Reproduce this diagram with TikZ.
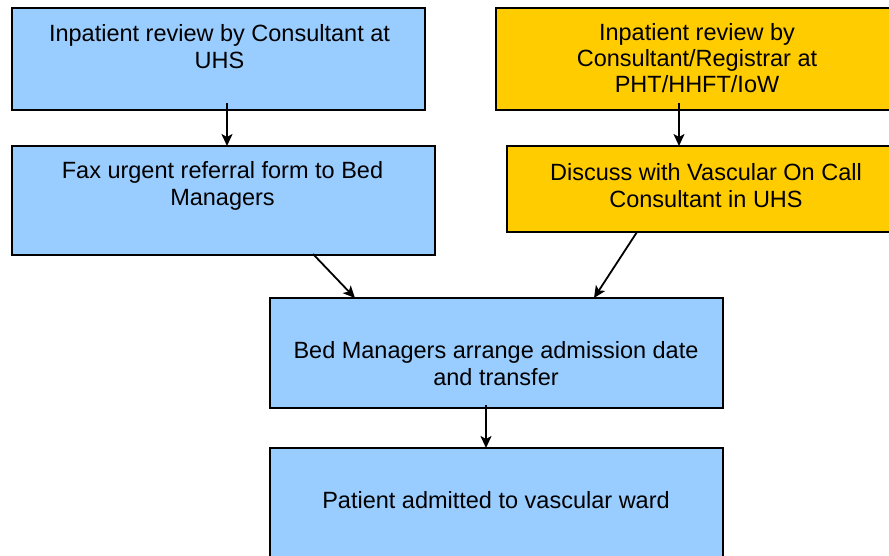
\documentclass[tikz,border=0pt]{standalone}
\usepackage{fontspec}
\setmainfont{Liberation Sans}
\usetikzlibrary{arrows.meta}
\definecolor{boxblue}{HTML}{99CCFF}
\definecolor{boxorange}{HTML}{FFCC00}
\begin{document}
\begin{tikzpicture}[x=1pt,y=-1pt,
  box/.style={draw=black,line width=1.7pt,minimum width=#1,inner sep=0pt,outer sep=0pt,rectangle},
  bluebox/.style={box=#1,fill=boxblue},
  orangebox/.style={box=#1,fill=boxorange},
  txt/.style={anchor=north,align=center,inner sep=0pt,font=\fontsize{23.5}{27}\selectfont},
  arr/.style={line width=1.8pt,-{Stealth[length=12pt,width=11pt,inset=3pt]}}]
\useasboundingbox (0,0) rectangle (889,555);
\clip (0,0) rectangle (889,555);
\fill[white] (0,0) rectangle (889,555);
% boxes
\node[bluebox=413pt,minimum height=102pt] (b1) at (218.5,59) {};
\node[bluebox=423pt,minimum height=109pt] (b2) at (223.5,200.5) {};
\node[orangebox=404pt,minimum height=102pt] (b3) at (698,59) {};
\node[orangebox=393pt,minimum height=86pt] (b4) at (703.5,189) {};
\node[bluebox=453pt,minimum height=110pt] (b5) at (496.5,353) {};
\node[bluebox=453pt,minimum height=152pt] (b6) at (496.5,524) {};
% texts
\node[txt] (t1) at (219.5,24) {Inpatient review by Consultant at\\UHS};
\node[txt] (t2) at (222.5,161) {Fax urgent referral form to Bed\\Managers};
\node[txt,font=\fontsize{23.5}{26}\selectfont] (t3) at (697,23) {Inpatient review by\\Consultant/Registrar at\\PHT/HHFT/IoW};
\node[txt] (t4) at (706,163) {Discuss with Vascular On Call\\Consultant in UHS};
\node[txt] (t5) at (496,341) {Bed Managers arrange admission date\\and transfer};
\node[txt] (t6) at (496,491) {Patient admitted to vascular ward};
% connectors
\draw[arr] ([xshift=8.5pt,yshift=7pt]b1.south) -- ([xshift=3.5pt]b2.north);
\draw[arr] ([xshift=-19pt,yshift=7pt]b3.south) -- ([xshift=-24.5pt]b4.north);
\draw[arr] ([xshift=89.5pt,yshift=1pt]b2.south) -- ([xshift=-141.5pt]b5.north);
\draw[arr] ([xshift=-66.5pt]b4.south) -- ([xshift=97.5pt]b5.north);
\draw[arr] ([xshift=-10.5pt,yshift=3pt]b5.south) -- ([xshift=-10.5pt]b6.north);
\end{tikzpicture}
\end{document}
